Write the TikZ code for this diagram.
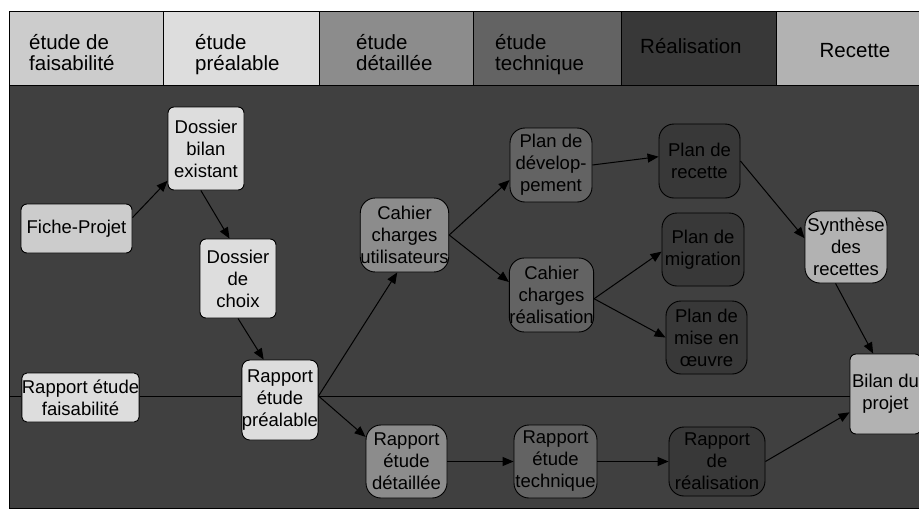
\documentclass[tikz,border=0pt]{standalone}
\usepackage{fontspec}
\setmainfont{Liberation Sans}
\usetikzlibrary{arrows.meta}

\definecolor{cfais}{HTML}{CCCCCC}
\definecolor{cpre}{HTML}{DDDDDD}
\definecolor{cdet}{HTML}{8C8C8C}
\definecolor{ctech}{HTML}{636363}
\definecolor{creal}{HTML}{383838}
\definecolor{crec}{HTML}{B2B2B2}
\definecolor{cfond}{HTML}{404040}
\newcommand{\boxfont}{\fontsize{18.5}{22}\selectfont}
\newcommand{\phasefont}{\fontsize{20.5}{21}\selectfont}

\begin{document}
\begin{tikzpicture}[
  x=1pt, y=-1pt,
  every node/.style={inner sep=0pt},
  phasetxt/.style={font=\phasefont, align=left, anchor=base west},
  doc/.style={draw, line width=0.9pt, align=center, font=\boxfont, rounded corners=6pt},
  docr/.style={doc, rounded corners=15pt},
  flow/.style={line width=1pt, -{Triangle[length=11pt,width=9pt]}},
]
\useasboundingbox (0,0) rectangle (919,509);
% fond et bandeau des phases
\draw[line width=1pt, fill=cfond] (9,85) rectangle (930,508);
\foreach \xa/\xb/\col in {9/163/cfais, 163/319/cpre, 319/473/cdet, 473/621/ctech, 621/776/creal, 776/930/crec} {
  \draw[line width=1pt, fill=\col] (\xa,11) rectangle (\xb,85);
}
\node[phasetxt] (ph1) at (29,70) {étude de\\faisabilité};
\node[phasetxt] (ph2) at (195,70) {étude\\préalable};
\node[phasetxt] (ph3) at (356,70) {étude\\détaillée};
\node[phasetxt] (ph4) at (495,70) {étude\\technique};
\node[phasetxt] (ph5) at (640,53) {Réalisation};
\node[phasetxt, anchor=base] (ph6) at (855,57) {Recette};

% documents
\node[doc, fill=cfais, minimum width=111pt, minimum height=49pt] (fiche) at (76.5,228.5) {Fiche-Projet};
\node[doc, fill=cpre, minimum width=76pt, minimum height=83pt] (bilan) at (206,148.5) {Dossier\\bilan\\existant};
\node[doc, fill=cpre, minimum width=76pt, minimum height=79pt] (choix) at (238,278.5) {Dossier\\de\\choix};
\node[doc, fill=cpre, minimum width=113pt, minimum height=49pt, rounded corners=5pt] (faisab) at (80.5,397.5) {Rapport étude\\faisabilité};
\node[doc, fill=cpre, minimum width=76pt, minimum height=80pt, rounded corners=8pt] (prealable) at (280,400) {Rapport\\étude\\préalable};
\node[docr, fill=cdet, minimum width=87pt, minimum height=74pt] (cdcu) at (404.5,235) {Cahier\\charges\\utilisateurs};
\node[docr, fill=cdet, minimum width=81pt, minimum height=73pt] (rdet) at (406.5,461.5) {Rapport\\étude\\détaillée};
\node[docr, fill=ctech, minimum width=82pt, minimum height=74pt] (pdev) at (551,165) {Plan de\\dévelop-\\pement};
\node[docr, fill=ctech, minimum width=83pt, minimum height=74pt] (cdcr) at (551.5,295) {Cahier\\charges\\réalisation};
\node[docr, fill=ctech, minimum width=83pt, minimum height=73pt] (rtech) at (555.5,461.5) {Rapport\\étude\\technique};
\node[docr, fill=creal, minimum width=81pt, minimum height=74pt] (precette) at (699.5,161) {Plan de\\recette};
\node[docr, fill=creal, minimum width=82pt, minimum height=73pt] (pmig) at (703,249.5) {Plan de\\migration};
\node[docr, fill=creal, minimum width=81pt, minimum height=73pt] (pmeo) at (706.5,337.5) {Plan de\\mise en\\œuvre};
\node[docr, fill=creal, minimum width=96pt, minimum height=69pt] (rreal) at (717,461.5) {Rapport\\de\\réalisation};
\node[docr, fill=crec, minimum width=82pt, minimum height=72pt] (synth) at (846,247) {Synthèse\\des\\recettes};
\node[doc, fill=crec, minimum width=71pt, minimum height=80pt] (bilanp) at (885.5,394) {Bilan du\\projet};

% ligne des rapports
\coordinate (start) at (9,396);
\coordinate (fork) at (prealable.east |- start);
\draw[line width=1pt] (start) -- (faisab.west |- start)
  (faisab.east |- start) -- (prealable.west |- start)
  (fork) -- (bilanp.west |- start);

% enchainements
\draw[flow] (fiche.11) -- (bilan.220);
\draw[flow] (bilan.263) -- (choix.102);
\draw[flow] (choix.south) -- (prealable.112);
\draw[flow] (fork) -- (cdcu.259);
\draw[flow] (fork) -- (rdet.149);
\draw[flow] (cdcu.east) -- (pdev.200);
\draw[flow] (cdcu.east) -- (cdcr.163);
\draw[flow] (pdev.east) -- (precette.174);
\draw[flow] (cdcr.-5) -- (pmig.183);
\draw[flow] (cdcr.-5) -- (pmeo.west);
\draw[flow] (precette.east) -- (synth.168);
\draw[flow] (synth.254) -- (bilanp.107);
\draw[flow] (rdet.east) -- (rtech.west);
\draw[flow] (rtech.east) -- (rreal.west);
\draw[flow] (rreal.east) -- (bilanp.207);
\end{tikzpicture}
\end{document}
